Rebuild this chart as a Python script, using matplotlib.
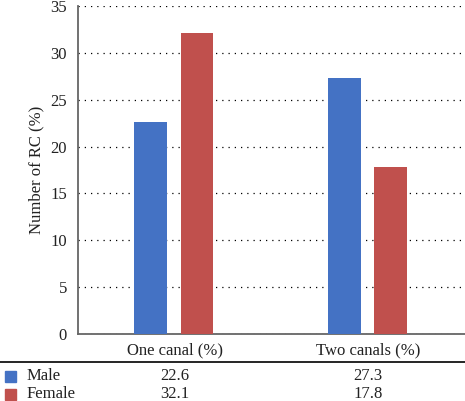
import matplotlib.pyplot as plt
from matplotlib.patches import Rectangle
from matplotlib.lines import Line2D
import numpy as np

categories = ["One canal (%)", "Two canals (%)"]
series_names = ["Male", "Female"]
male = [22.6, 27.3]
female = [32.1, 17.8]
colors = ["#4472C4", "#C0504D"]

plt.rcParams['font.family'] = ['Liberation Serif', 'DejaVu Serif']
fs = 12

W, H = 465, 401
fig = plt.figure(figsize=(W / 100, H / 100), dpi=100)
ax = fig.add_axes([78 / W, 1 - 334 / H, 1 - 78 / W, (334 - 6) / H])

x = np.arange(len(categories))
width = 0.17
offs = [-0.125, 0.115]
for vals, off, c in zip([male, female], offs, colors):
    ax.bar(x + off, vals, width, color=c, zorder=3)

ax.set_xlim(-0.5, len(categories) - 0.5)
ax.set_ylim(0, 35)
ax.set_yticks(range(0, 36, 5))
ax.yaxis.grid(True, linestyle=(0, (1, 4)), color="black", linewidth=0.9)
ax.set_axisbelow(True)
ax.tick_params(axis="y", length=0, pad=8, labelsize=fs, colors="#222222")
ax.tick_params(axis="x", length=0, pad=6, labelsize=fs, colors="#222222")
ax.set_xticks(x)
ax.set_xticklabels(categories)
for s in ["top", "right"]:
    ax.spines[s].set_visible(False)
for s in ["left", "bottom"]:
    ax.spines[s].set_color("#666666")
    ax.spines[s].set_linewidth(1.3)
ax.set_ylabel("Number of RC (%)", fontsize=fs, labelpad=4, color="#222222")

# data table under the chart
fig.add_artist(Line2D([0, 1], [1 - 362 / H] * 2, color="black", linewidth=1.2,
                      transform=fig.transFigure))
row_y = [1 - 376 / H, 1 - 394 / H]
for name, vals, c, ry in zip(series_names, [male, female], colors, row_y):
    fig.add_artist(Rectangle((5 / W, ry - 5.5 / H), 11 / W, 11 / H, color=c,
                             transform=fig.transFigure))
    fig.text(27 / W, ry, name, fontsize=fs, va="center", color="#222222")
    for xi, v in zip(x, vals):
        xf = fig.transFigure.inverted().transform(ax.transData.transform((xi, 0)))[0]
        fig.text(xf, ry, f"{v}", fontsize=fs, va="center", ha="center", color="#222222")

fig.savefig("out.png", dpi=100)
